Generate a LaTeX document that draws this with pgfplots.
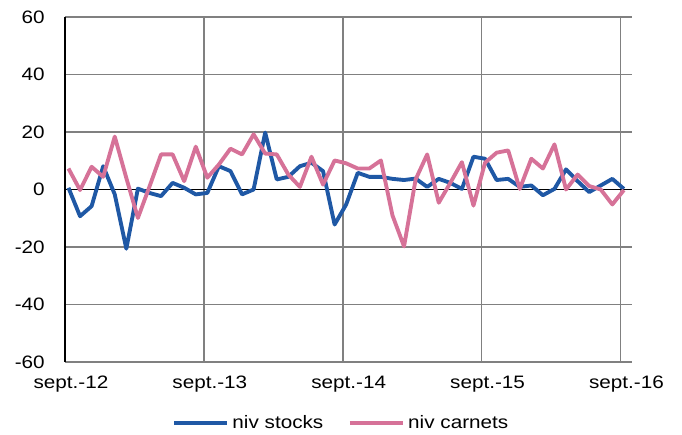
\documentclass[border=0pt]{standalone}
\usepackage{fontspec}
\setmainfont{Liberation Sans}[FakeStretch=1.15]
\usepackage{pgfplots}
\pgfplotsset{compat=1.18}
\definecolor{cblue}{RGB}{31,88,165}
\definecolor{cpink}{RGB}{214,114,152}
\definecolor{cgrid}{RGB}{128,128,128}
\begin{document}
\fontsize{13.5pt}{16pt}\selectfont
\begin{tikzpicture}
\useasboundingbox (-48.75pt,-54.75pt) rectangle (462.75pt,271.5pt);
\begin{axis}[
  at={(0,0)}, anchor=south west,
  width=425.25pt, height=258.75pt, scale only axis,
  xmin=0, xmax=49, ymin=-60, ymax=60,
  xtick={0,12,24,36,48},
  xticklabels={sept.-12,sept.-13,sept.-14,sept.-15,sept.-16},
  ytick={-60,-40,-20,0,20,40,60},
  major tick length=0pt,
  /pgf/number format/assume math mode=true,
  tick label style={font=\fontsize{13.5pt}{16pt}\selectfont},
  xticklabel style={yshift=-6pt, xshift=4.5pt},
  yticklabel style={xshift=-10.5pt},
  xmajorgrids, ymajorgrids,
  grid style={cgrid, line width=1.3pt},
  axis lines*=left,
  x axis line style={cgrid, line width=1.3pt, -},
  y axis line style={black, line width=1.5pt, -},
  legend style={draw=none, at={(0.4885,-0.177)}, anchor=center,
    legend columns=2, font=\fontsize{13.5pt}{16pt}\selectfont,
    /tikz/every even column/.append style={column sep=16pt},
    nodes={inner sep=2.5pt}},
  legend image code/.code={\draw[#1] (0pt,0pt) -- (39.75pt,0pt);},
]
\addplot[black, line width=1.2pt, forget plot] coordinates {(0,0) (49,0)};
\addplot[cblue, line width=2.9pt, line join=round] coordinates {
(0.3,0.6) (1.3,-9.3) (2.3,-5.8) (3.3,8.1) (4.3,-1.7) (5.3,-20.6) (6.3,0.3) (7.3,-1.2) (8.3,-2.3) (9.3,2.3)
(10.3,0.6) (11.3,-1.7) (12.3,-1.2) (13.3,8.1) (14.3,6.4) (15.3,-1.7) (16.3,0) (17.3,19.8) (18.3,3.5) (19.3,4.4)
(20.3,8.1) (21.3,9.3) (22.3,6.4) (23.3,-12.2) (24.3,-5.2) (25.3,5.8) (26.3,4.4) (27.3,4.4) (28.3,3.7) (29.3,3.3)
(30.3,3.8) (31.3,0.9) (32.3,3.7) (33.3,2.3) (34.3,0.2) (35.3,11.4) (36.3,10.7) (37.3,3.3) (38.3,3.7) (39.3,0.9)
(40.3,1.4) (41.3,-2) (42.3,0.2) (43.3,7) (44.3,2.9) (45.3,-0.9) (46.3,1.4) (47.3,3.7) (48.3,0.2)
};
\addlegendentry{niv stocks}
\addplot[cpink, line width=2.9pt, line join=round] coordinates {
(0.3,7.3) (1.3,-0.2) (2.3,7.9) (3.3,4.4) (4.3,18.4) (5.3,4) (6.3,-9.9) (7.3,1) (8.3,12.2) (9.3,12.2)
(10.3,2.9) (11.3,14.9) (12.3,4.1) (13.3,8.7) (14.3,14.2) (15.3,12.2) (16.3,19.2) (17.3,12.5) (18.3,12.2) (19.3,5.2)
(20.3,0.9) (21.3,11.4) (22.3,1.7) (23.3,10.1) (24.3,9.1) (25.3,7.3) (26.3,7.3) (27.3,10.1) (28.3,-9) (29.3,-19.8)
(30.3,3.5) (31.3,12.2) (32.3,-4.6) (33.3,2.3) (34.3,9.5) (35.3,-5.6) (36.3,9.3) (37.3,12.8) (38.3,13.6) (39.3,0.2)
(40.3,10.7) (41.3,7.3) (42.3,15.7) (43.3,0) (44.3,5.2) (45.3,1.2) (46.3,0) (47.3,-5.2) (48.3,-0.2)
};
\addlegendentry{niv carnets}
\end{axis}
\end{tikzpicture}
\end{document}
